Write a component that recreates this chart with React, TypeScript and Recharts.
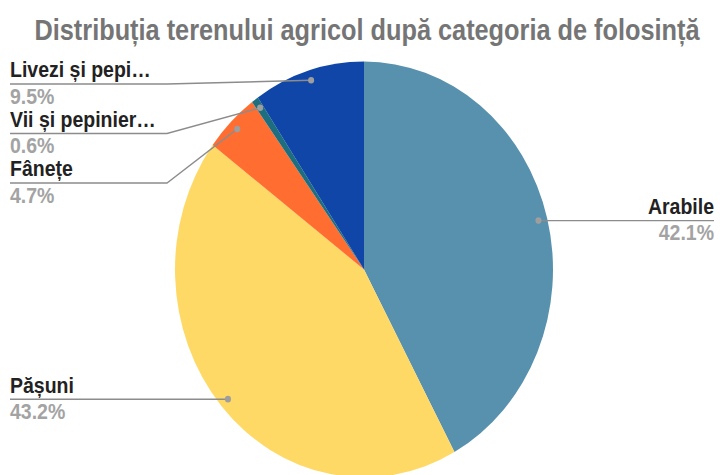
import { Cell, Pie, PieChart } from 'recharts'

const TITLE = 'Distribuția terenului agricol după categoria de folosință'

const categories = ['Arabile', 'Pășuni', 'Fânețe', 'Vii și pepinier…', 'Livezi și pepi…']
const shares = [42.1, 43.2, 4.7, 0.6, 9.5]
const colors = ['#5891AD', '#FFD966', '#FF6D31', '#1D6F7F', '#1046A8']

const data = categories.map((name, i) => ({ name, value: shares[i] }))

// whole chart is stretched vertically like the source picture
const STRETCH = 1.1
const W = 720
const H = 432
const CX = 364
const CY = 245
const R = 189
const DOT_R = 180
const RAD = Math.PI / 180

const FONT = '"Liberation Sans", Arial, sans-serif'

// mid angles the same way Recharts lays the slices out (90 -> -270)
function midAngles() {
  const total = shares.reduce((a, b) => a + b, 0)
  let acc = 0
  return shares.map((v) => {
    const start = 90 - (acc / total) * 360
    acc += v
    const end = 90 - (acc / total) * 360
    return (start + end) / 2
  })
}

// push the left-hand labels apart so they don't overlap
function layoutLabels() {
  const mids = midAngles()
  const dots = mids.map((a) => ({
    x: CX + DOT_R * Math.cos(-a * RAD),
    y: CY + DOT_R * Math.sin(-a * RAD),
  }))
  const lineY: number[] = dots.map((d) => d.y)
  const left = dots
    .map((d, i) => ({ i, d }))
    .filter((o) => o.d.x < CX)
    .sort((a, b) => a.d.y - b.d.y)
  let prev = -Infinity
  for (const o of left) {
    const y = Math.max(o.d.y, prev + 45, 76.4)
    lineY[o.i] = y
    prev = y
  }
  return lineY
}

const LINE_Y = layoutLabels()

function renderLabel(props: any) {
  const { cx, cy, midAngle, outerRadius, index } = props
  const r = outerRadius - 9
  const dx = cx + r * Math.cos(-midAngle * RAD)
  const dy = cy + r * Math.sin(-midAngle * RAD)
  const ly = LINE_Y[index]
  const isLeft = dx < cx
  const edge = isLeft ? 10 : 714
  const elbow = isLeft ? 167 : 560
  const points = `${edge},${ly} ${elbow},${ly} ${dx},${dy}`
  return (
    <g key={`lbl-${index}`}>
      <polyline points={points} fill="none" stroke="#8c8c8c" strokeWidth={1.3} />
      <circle cx={dx} cy={dy} r={3} fill="#9e9e9e" />
      <text
        x={edge}
        y={ly - 6}
        textAnchor={isLeft ? 'start' : 'end'}
        fontFamily={FONT}
        fontWeight="bold"
        fontSize={19.5}
        fill="#222222"
      >
        {categories[index]}
      </text>
      <text
        x={edge}
        y={ly + 18}
        textAnchor={isLeft ? 'start' : 'end'}
        fontFamily={FONT}
        fontWeight="bold"
        fontSize={19.5}
        fill="#a3a3a3"
      >
        {shares[index].toFixed(1)}%
      </text>
    </g>
  )
}

export default function App() {
  return (
    <div
      style={{
        position: 'fixed',
        left: 0,
        top: 0,
        width: W,
        height: H,
        background: '#fff',
        transform: `scaleY(${STRETCH})`,
        transformOrigin: '0 0',
      }}
    >
      <svg width={W} height={50} style={{ position: 'absolute', left: 0, top: 0 }}>
        <text
          x={367}
          y={36}
          textAnchor="middle"
          fontFamily={FONT}
          fontWeight="bold"
          fontSize={26}
          fill="#757575"
          textLength={665}
          lengthAdjust="spacingAndGlyphs"
        >
          {TITLE}
        </text>
      </svg>
      <div style={{ position: 'absolute', left: 0, top: 0 }}>
        <PieChart width={W} height={H} margin={{ top: 0, right: 0, bottom: 0, left: 0 }}>
          <Pie
            data={data}
            dataKey="value"
            nameKey="name"
            cx={CX}
            cy={CY}
            outerRadius={R}
            startAngle={90}
            endAngle={-270}
            stroke="none"
            label={renderLabel}
            labelLine={false}
            isAnimationActive={false}
          >
            {data.map((d, i) => (
              <Cell key={d.name} fill={colors[i]} />
            ))}
          </Pie>
        </PieChart>
      </div>
    </div>
  )
}
